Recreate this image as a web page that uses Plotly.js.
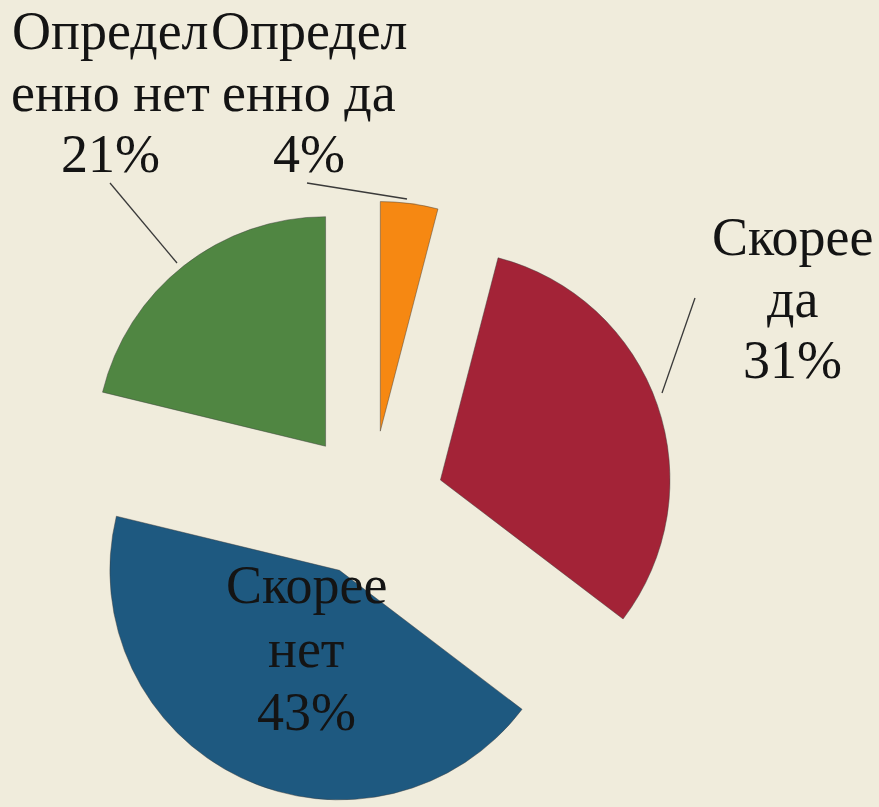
<!DOCTYPE html>
<html>
<head>
<meta charset="utf-8">
<script src="https://cdn.plot.ly/plotly-3.0.1.min.js"></script>
<style>html,body{margin:0;padding:0;background:#F0ECDC;overflow:hidden}</style>
</head>
<body>
<div id="chart" style="width:879px;height:807px"></div>
<script>
// Data
const categories = ['Определенно да', 'Скорее да', 'Скорее нет', 'Определенно нет'];
const values = [4, 31, 43, 21];
const labelLines = [['Определ', 'енно да'], ['Скорее', 'да'], ['Скорее', 'нет'], ['Определ', 'енно нет']];
const sliceColors = ['#F68812', '#A32337', '#1E5980', '#508642'];

const W = 879, H = 807;
// label placement (pixel centre of first line) and line step
const labelPos = [[309, 31], [792, 237], [306, 585], [110, 31]];
const lineStep = 61.5;

const annotations = [];
categories.forEach((c, i) => {
  const lines = labelLines[i].concat([values[i] + '%']);
  lines.forEach((t, k) => {
    annotations.push({
      xref: 'paper', yref: 'paper',
      x: labelPos[i][0] / W,
      y: 1 - (labelPos[i][1] + k * (i === 2 ? 63.5 : lineStep)) / H,
      xanchor: 'center', yanchor: 'middle',
      text: t, showarrow: false,
      font: {family: 'Liberation Serif, Times New Roman, serif', size: 54, color: '#141414'}
    });
  });
});

// leader lines
const leaders = [[[307, 183], [407, 199]], [[695, 298], [662, 393]], [[110, 183], [177, 263]]];
const shapes = leaders.map(l => ({
  type: 'line', xref: 'paper', yref: 'paper',
  x0: l[0][0] / W, y0: 1 - l[0][1] / H, x1: l[1][0] / W, y1: 1 - l[1][1] / H,
  line: {color: '#3a3a3a', width: 1.3}
}));

const cx = 371, boxW = 614, boxH = 606;
const trace = {
  type: 'pie',
  labels: categories,
  values: values,
  sort: false,
  direction: 'clockwise',
  rotation: 0,
  pull: values.map(() => 0.32),
  marker: {colors: sliceColors, line: {color: 'rgba(60,60,60,0.45)', width: 1}},
  textinfo: 'none',
  hoverinfo: 'label+percent',
  domain: {x: [(cx - boxW / 2) / W, (cx + boxW / 2) / W], y: [0, boxH / H]}
};

Plotly.newPlot('chart', [trace], {
  width: W, height: H,
  margin: {l: 0, r: 0, t: 0, b: 0},
  paper_bgcolor: '#F0ECDC',
  plot_bgcolor: '#F0ECDC',
  showlegend: false,
  annotations: annotations,
  shapes: shapes
}, {displayModeBar: false, staticPlot: true});
</script>
</body>
</html>
